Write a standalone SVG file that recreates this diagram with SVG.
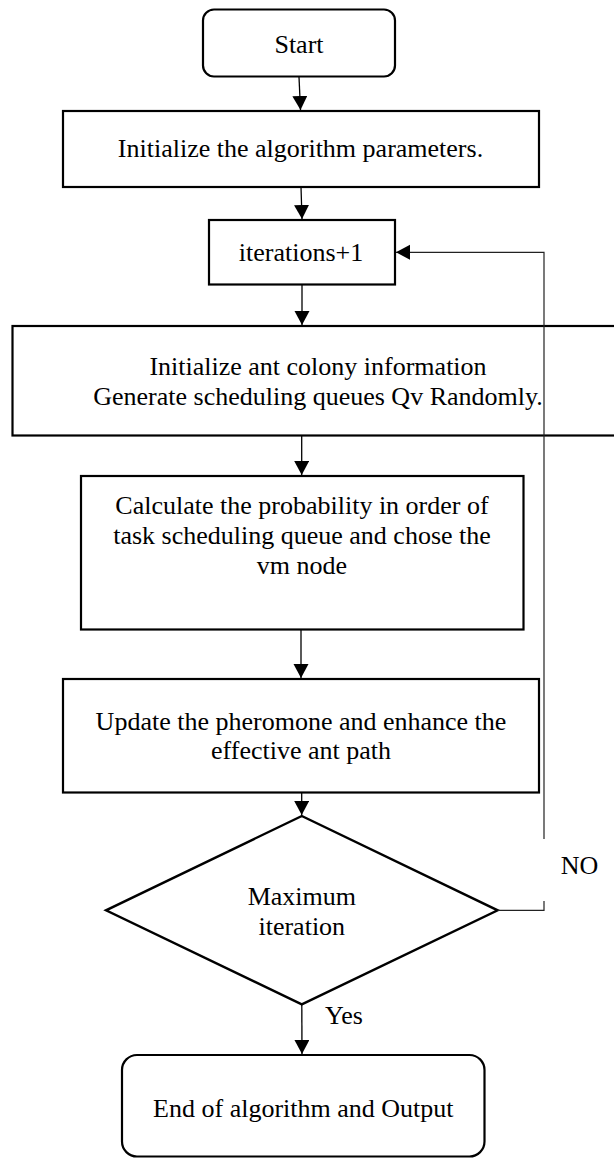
<svg xmlns="http://www.w3.org/2000/svg" width="614" height="1158" viewBox="0 0 614 1158">
<style>
.box{fill:#fff;stroke:#000;stroke-width:2.2}
.dia{fill:#fff;stroke:#000;stroke-width:2.4}
.t{font-family:"Liberation Serif","Times New Roman",serif;font-size:26px;fill:#000;text-anchor:middle}
.ts{font-family:"Liberation Serif","Times New Roman",serif;font-size:26px;fill:#000}
.c{fill:none;stroke:#000;stroke-width:1.3}
.fb{fill:none;stroke:#222;stroke-width:1.2}
</style>
<defs>
<marker id="ah" markerUnits="userSpaceOnUse" markerWidth="16" markerHeight="16" refX="14" refY="7.5" orient="auto">
<path d="M0,0 L14,7.5 L0,15 z" fill="#000"/>
</marker>
</defs>
<g id="start"><rect class="box" x="203" y="9.5" width="192" height="67" rx="11"/><text class="t" x="299" y="53">Start</text></g>
<g id="init"><rect class="box" x="63" y="111" width="476" height="76"/><text class="t" x="300.5" y="157">Initialize the algorithm parameters.</text></g>
<g id="iter"><rect class="box" x="209" y="220" width="186" height="64.5"/><text class="t" x="301" y="261">iterations+1</text></g>
<g id="ant"><rect class="box" x="12.5" y="326" width="610" height="109.5"/><text class="t" x="318" y="375">Initialize ant colony information</text><text class="t" x="318" y="404.5">Generate scheduling queues Qv Randomly.</text></g>
<g id="calc"><rect class="box" x="81" y="476" width="442.5" height="153.5"/><text class="t" x="302" y="513.5">Calculate the probability in order of</text><text class="t" x="302" y="544">task scheduling queue and chose the</text><text class="t" x="302" y="573.5">vm node</text></g>
<g id="update"><rect class="box" x="63" y="679" width="476" height="113.5"/><text class="t" x="301" y="730">Update the pheromone and enhance the</text><text class="t" x="301" y="759">effective ant path</text></g>
<g id="decision"><polygon class="dia" points="301.8,816 497.7,910.3 301.8,1004.3 106,910.3"/><text class="t" x="301.8" y="905">Maximum</text><text class="t" x="301.8" y="935">iteration</text></g>
<g id="end"><rect class="box" x="122" y="1055" width="362.5" height="101.5" rx="15"/><text class="t" x="303.3" y="1117">End of algorithm and Output</text></g>
<g id="connectors">
<path class="c" d="M299,77 L300.5,110" marker-end="url(#ah)"/>
<path class="c" d="M301,187 L302,219" marker-end="url(#ah)"/>
<path class="c" d="M302,285 L302,325" marker-end="url(#ah)"/>
<path class="c" d="M301.7,436 L301.7,475" marker-end="url(#ah)"/>
<path class="c" d="M301,630 L301,678" marker-end="url(#ah)"/>
<path class="c" d="M301.7,793 L301.7,815" marker-end="url(#ah)"/>
<path class="c" d="M301.8,1004.3 L302,1054" marker-end="url(#ah)"/>
<path class="fb" d="M497.7,910.3 H544 V901"/>
<path class="fb" d="M544,839 V252.3 H396" marker-end="url(#ah)"/>
<text class="ts" x="560.7" y="874">NO</text>
<text class="ts" x="325" y="1024">Yes</text>
</g>
</svg>
